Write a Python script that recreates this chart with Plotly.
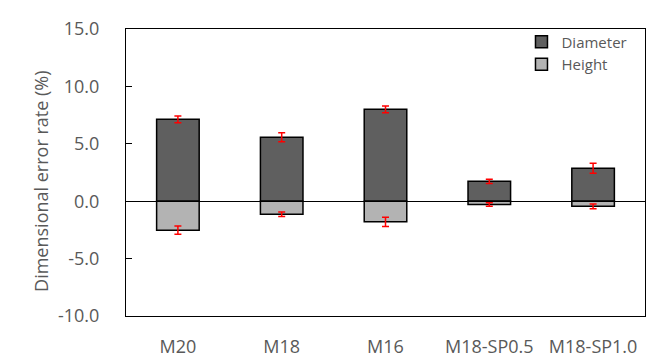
import plotly.graph_objects as go

categories = ["M20", "M18", "M16", "M18-SP0.5", "M18-SP1.0"]
diameter = [7.13, 5.57, 8.00, 1.73, 2.87]
diameter_err = [0.29, 0.40, 0.29, 0.19, 0.43]
height = [-2.52, -1.14, -1.80, -0.28, -0.45]
height_err = [0.36, 0.20, 0.41, 0.15, 0.20]
ytick_vals = [-10, -5, 0, 5, 10, 15]
ytick_text = ["-10.0", "-5.0", "0.0", "5.0", "10.0", "15.0"]

FONT = "Open Sans"
GREY = "#595959"

fig = go.Figure()
fig.add_trace(go.Bar(
    x=categories, y=diameter, name="Diameter",
    marker=dict(color="#5f5f5f", line=dict(color="black", width=1.5)),
    error_y=dict(type="data", array=diameter_err, color="red", thickness=1.5, width=3.5),
))
fig.add_trace(go.Bar(
    x=categories, y=height, name="Height",
    marker=dict(color="#b3b3b3", line=dict(color="black", width=1.5)),
    error_y=dict(type="data", array=height_err, color="red", thickness=1.5, width=3.5),
))

fig.update_layout(
    width=669, height=358,
    margin=dict(l=118, r=32, t=21, b=50, autoexpand=False),
    paper_bgcolor="white", plot_bgcolor="white",
    barmode="relative", bargap=0.59,
    font=dict(family=FONT, color=GREY, size=18),
    showlegend=True,
    legend=dict(x=0.762, y=1.012, xanchor="left", yanchor="top",
                font=dict(size=15, color=GREY), bgcolor="rgba(0,0,0,0)",
                tracegroupgap=0),
    xaxis=dict(showline=True, linecolor="black", linewidth=1, mirror=True,
               ticks="", showgrid=False, ticklabelstandoff=14, automargin=False,
               tickfont=dict(size=18, color=GREY)),
    yaxis=dict(range=[-10, 15], tickvals=ytick_vals, ticktext=ytick_text,
               showline=True, linecolor="black", linewidth=1, mirror=True,
               ticks="inside", ticklen=6, tickcolor="black", showgrid=False,
               zeroline=True, zerolinecolor="black", zerolinewidth=1.2,
               ticklabelstandoff=22, automargin=False,
               tickfont=dict(size=18, color=GREY)),
    annotations=[dict(text="Dimensional error rate (%)", textangle=-90,
                      xref="paper", yref="paper", x=(33.5 - 118) / 519, y=0.469,
                      xanchor="center", yanchor="middle", showarrow=False,
                      font=dict(size=18, color=GREY, family=FONT))],
)

fig.write_html("out.html")
